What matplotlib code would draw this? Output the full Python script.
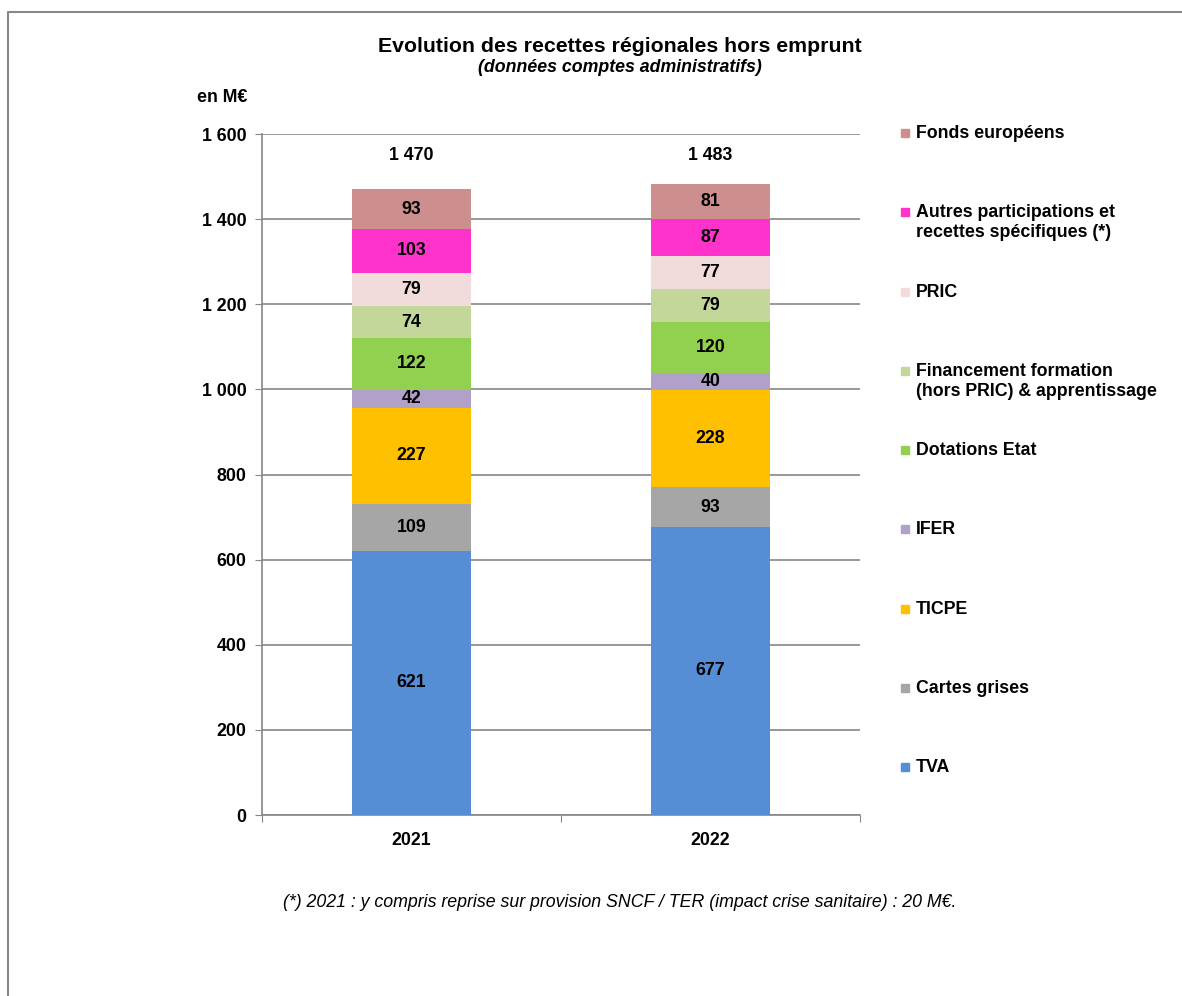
import matplotlib.pyplot as plt
from matplotlib.lines import Line2D

plt.rcParams['font.family'] = ['Liberation Sans', 'DejaVu Sans']

years = ['2021', '2022']
categories = ['TVA', 'Cartes grises', 'TICPE', 'IFER', 'Dotations Etat',
              'Financement formation\n(hors PRIC) & apprentissage', 'PRIC',
              'Autres participations et\nrecettes spécifiques (*)', 'Fonds européens']
values_2021 = [621, 109, 227, 42, 122, 74, 79, 103, 93]
values_2022 = [677, 93, 228, 40, 120, 79, 77, 87, 81]
totals = ['1 470', '1 483']
colors = ['#558ED5', '#A6A6A6', '#FFC000', '#B1A0C7', '#92D050',
          '#C4D79B', '#F2DCDB', '#FF33CC', '#CD8F8D']

fig = plt.figure(figsize=(11.82, 9.96), dpi=100)
W, H = 1182, 996
ax = fig.add_axes([262 / W, 1 - 815 / H, (860 - 262) / W, (815 - 134) / H])

fs = 12.8
x = [0, 1]
bottoms = [0, 0]
for i, cat in enumerate(categories):
    vals = [values_2021[i], values_2022[i]]
    ax.bar(x, vals, width=0.4, bottom=bottoms, color=colors[i], zorder=3)
    for j in range(2):
        ax.text(x[j], bottoms[j] + vals[j] / 2, str(vals[j]), ha='center', va='center',
                fontsize=fs, fontweight='bold', zorder=4)
    bottoms = [bottoms[0] + vals[0], bottoms[1] + vals[1]]

for j in range(2):
    ax.text(x[j], 1550, totals[j], ha='center', va='center', fontsize=fs, fontweight='bold')

ax.set_xlim(-0.5, 1.5)
ax.set_ylim(0, 1600)
ax.set_yticks(range(0, 1601, 200))
ax.set_yticklabels([f'{v:,}'.replace(',', ' ') for v in range(0, 1601, 200)],
                   fontsize=fs, fontweight='bold')
ax.set_xticks([-0.5, 0.5, 1.5])
ax.set_xticklabels([])
ax.set_xticks(x, minor=True)
ax.set_xticklabels(years, minor=True, fontsize=fs, fontweight='bold')
ax.tick_params(axis='x', which='minor', length=0, pad=12)
ax.tick_params(axis='x', which='major', length=5, color='#868686')
ax.tick_params(axis='y', length=5, color='#868686', pad=6)
ax.grid(axis='y', color='#868686', linewidth=1.2, zorder=0)
for s in ['top', 'right']:
    ax.spines[s].set_visible(False)
for s in ['left', 'bottom']:
    ax.spines[s].set_color('#868686')
    ax.spines[s].set_linewidth(1.2)

fig.text(620 / W, 1 - 46 / H, 'Evolution des recettes régionales hors emprunt',
         ha='center', va='center', fontsize=15.3, fontweight='bold')
fig.text(620 / W, 1 - 68 / H, '(données comptes administratifs)',
         ha='center', va='center', fontsize=12.8, fontweight='bold', style='italic')
fig.text(222 / W, 1 - 97 / H, 'en M€', ha='center', va='center', fontsize=fs, fontweight='bold')
fig.text(620 / W, 1 - 902 / H,
         '(*) 2021 : y compris reprise sur provision SNCF / TER (impact crise sanitaire) : 20 M€.',
         ha='center', va='center', fontsize=12.8, style='italic')

# legend, top entry first
for k, i in enumerate(range(len(categories) - 1, -1, -1)):
    yy = 133 + 79.3 * k
    fig.add_artist(Line2D([905 / W], [1 - yy / H], marker='s', markersize=6,
                          color=colors[i], linestyle='none'))
    fig.text(916 / W, 1 - (yy - 8) / H, categories[i], ha='left', va='top',
             fontsize=fs, fontweight='bold', linespacing=1.2)

# outer frame
fig.add_artist(Line2D([8 / W, 8 / W, 1], [0, 1 - 12 / H, 1 - 12 / H],
                      color='#888888', linewidth=1.5))

fig.savefig('out.png', dpi=100)
